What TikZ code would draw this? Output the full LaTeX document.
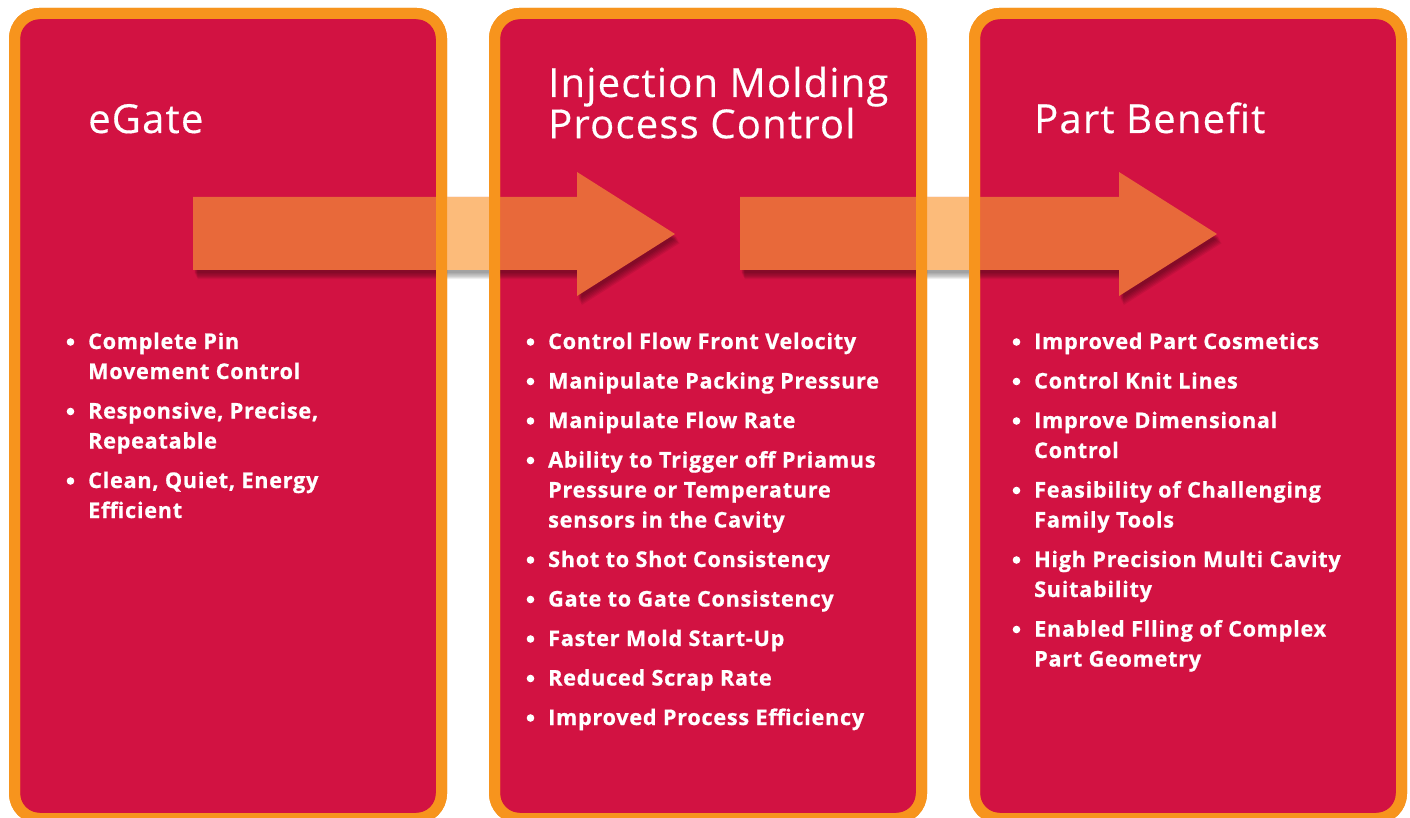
\documentclass[tikz,border=0pt]{standalone}
\usepackage{fontspec}
\setmainfont{Open Sans}
\newfontfamily\titlefont[LetterSpace=3, FakeBold=0.4]{Open Sans}
\newfontfamily\itemfont[LetterSpace=3.5, BoldFeatures={FakeBold=0.8}]{Open Sans}

\definecolor{panelred}{HTML}{D21242}
\definecolor{borderorange}{HTML}{F7941D}
\definecolor{arroworange}{HTML}{E8693A}
\definecolor{arrowlight}{HTML}{FCBB7A}

\tikzset{
  panel/.style={rectangle, rounded corners=25pt, line width=11pt, draw=borderorange,
    fill=panelred, minimum width=427pt, minimum height=805pt, inner sep=0pt, outer sep=0pt},
  title/.style={anchor=base west, text=white, inner sep=0pt,
    font=\titlefont\fontsize{40}{36}\selectfont},
  item/.style={anchor=base west, text=white, inner sep=0pt,
    font=\itemfont\fontsize{21.6}{30}\selectfont\bfseries},
}

% arrow outline: left x, shaft length
\newcommand{\arrowpath}[2]{(#1,197) -- ++(#2,0) -- ++(0,-25) -- ++(98,62) -- ++(-98,62) -- ++(0,-26) -- ++(-#2,0) -- cycle}
% lines hung from the first baseline
\newcommand{\lines}[1]{\begin{tabular}[t]{@{}l@{}}#1\end{tabular}}
% bullet item: name, position (x,y without brackets), text
\newcommand{\bitem}[3]{%
  \node[item] (#1) at (#2) {\lines{#3}};
  \fill[white] ([xshift=-17.5pt,yshift=7pt]#2) circle (3.8pt);}

\begin{document}
\begin{tikzpicture}[x=1pt,y=-1pt]
    \useasboundingbox[fill=white] (0,0) rectangle (1410,818);

    \node[panel] (egate) at (228,416) {};
    \node[panel] (control) at (708,416) {};
    \node[panel] (benefit) at (1188,416) {};

    % shadows and arrows
    \foreach \k in {1,...,6}
        \fill[black, opacity=0.07, shift={(1+0.6*\k,2+1.2*\k)}] \arrowpath{193}{384} \arrowpath{740}{379};
    \fill[arroworange] \arrowpath{193}{384};
    \fill[arroworange] \arrowpath{740}{379};
    \fill[arrowlight] (447,197) rectangle (489,270);
    \fill[arrowlight] (927,197) rectangle (969,270);
    \draw[panel, fill=none] (egate.south west) rectangle (egate.north east);
    \draw[panel, fill=none] (control.south west) rectangle (control.north east);
    \draw[panel, fill=none] (benefit.south west) rectangle (benefit.north east);

    \node[title] (t-egate) at (88,133) {eGate};
    \node[title] (t-control) at (548,97) {\lines{Injection Molding\\Process Control}};
    \node[title] (t-benefit) at (1034,133) {Part Benefit};

    \bitem{e1}{88,349}{Complete Pin\\Movement Control}
    \bitem{e2}{88,418.5}{Responsive, Precise,\\Repeatable}
    \bitem{e3}{88,488}{Clean, Quiet, Energy\\Efficient}

    \bitem{c1}{548,349}{Control Flow Front Velocity}
    \bitem{c2}{548,388.5}{Manipulate Packing Pressure}
    \bitem{c3}{548,428}{Manipulate Flow Rate}
    \bitem{c4}{548,467.5}{Ability to Trigger off Priamus\\Pressure or Temperature\\sensors in the Cavity}
    \bitem{c5}{548,567}{Shot to Shot Consistency}
    \bitem{c6}{548,606.5}{Gate to Gate Consistency}
    \bitem{c7}{548,646}{Faster Mold Start-Up}
    \bitem{c8}{548,685.5}{Reduced Scrap Rate}
    \bitem{c9}{548,725}{Improved Process Efficiency}

    \bitem{b1}{1034,349}{Improved Part Cosmetics}
    \bitem{b2}{1034,388.5}{Control Knit Lines}
    \bitem{b3}{1034,428}{Improve Dimensional\\Control}
    \bitem{b4}{1034,497.5}{Feasibility of Challenging\\Family Tools}
    \bitem{b5}{1034,567}{High Precision Multi Cavity\\Suitability}
    \bitem{b6}{1034,636.5}{Enabled Flling of Complex\\Part Geometry}
\end{tikzpicture}
\end{document}
